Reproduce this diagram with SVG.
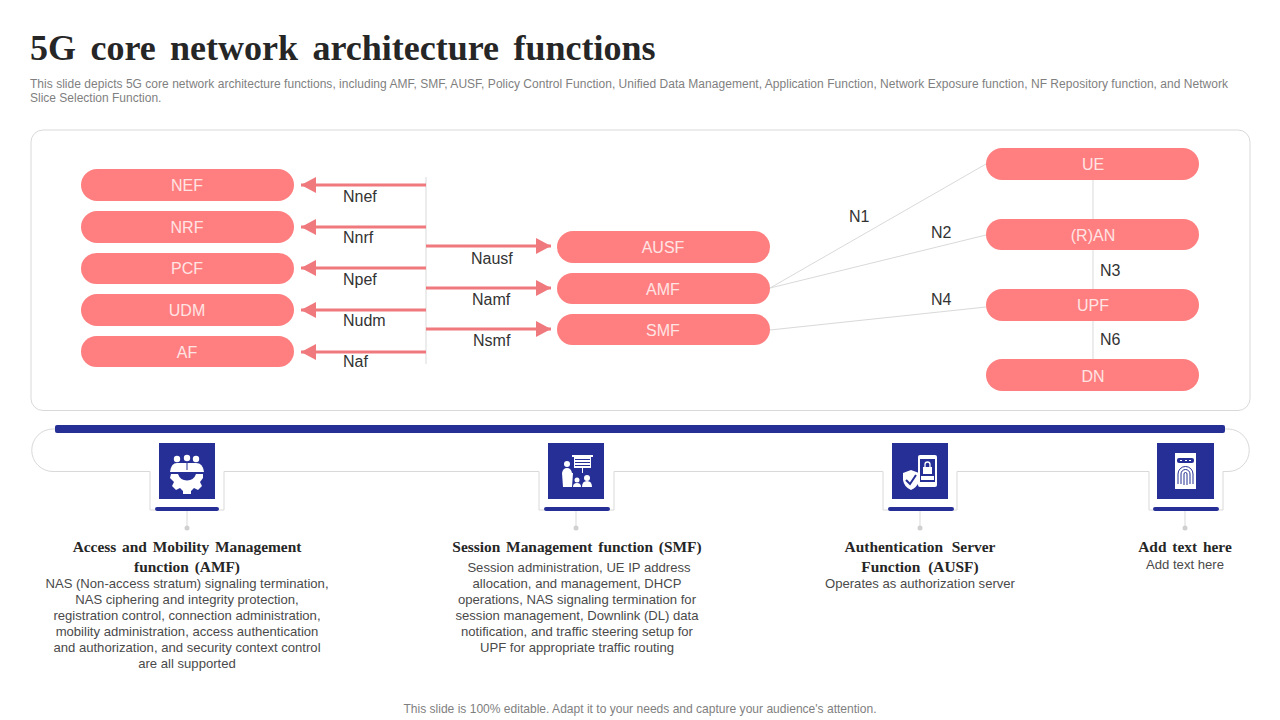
<svg xmlns="http://www.w3.org/2000/svg" width="1280" height="720" viewBox="0 0 1280 720">
<style>
text{font-family:"Liberation Sans",Arial,sans-serif}
.pill{fill:#ff7f80}
.pl{fill:#ffe4e4;font-size:16px;text-anchor:middle}
.lb{fill:#333;font-size:16px}
.thin{fill:none;stroke:#d9d9d9;stroke-width:1}
.arr{stroke:#f0797d;stroke-width:3;fill:none;marker-end:url(#ah)}
.navy{fill:#252f95}
.h{font-family:"Liberation Serif",serif;font-weight:bold;font-size:15.400px;fill:#262626;text-anchor:middle;word-spacing:2px}
.b{font-size:13.100px;fill:#4a4a4a;text-anchor:middle}
.w{fill:#fff}
</style>
<defs><marker id="ah" markerUnits="userSpaceOnUse" markerWidth="16" markerHeight="16" refX="15" refY="8" orient="auto"><path d="M0 0L15 8L0 16Z" fill="#f0797d"/></marker></defs>
<rect width="1280" height="720" fill="#fff"/>
<text x="30" y="60" style="font-family:'Liberation Serif',serif;font-weight:bold;font-size:36px;word-spacing:5.400px" fill="#262626">5G core network architecture functions</text>
<g font-size="12" fill="#7f7f7f">
<text x="30" y="88" textLength="1198" lengthAdjust="spacing">This slide depicts 5G core network architecture functions, including AMF, SMF, AUSF, Policy Control Function, Unified Data Management, Application Function, Network Exposure function, NF Repository function, and Network</text>
<text x="30" y="102">Slice Selection Function.</text>
</g>
<rect x="31" y="130" width="1219" height="280.500" rx="12" fill="#fff" stroke="#d9d9d9"/>
<g id="connectors">
<path class="thin" d="M426 177V364M770 288L986 164M770 288L986 235M770 330L986 307M1093 180V219M1093 250V289M1093 321V359"/>
<path class="arr" d="M426 185H301"/>
<path class="arr" d="M426 227H301"/>
<path class="arr" d="M426 268H301"/>
<path class="arr" d="M426 310H301"/>
<path class="arr" d="M426 352H301"/>
<path class="arr" d="M426 246H551"/>
<path class="arr" d="M426 288H551"/>
<path class="arr" d="M426 329H551"/>
</g>
<g class="lb">
<text x="343" y="202">Nnef</text><text x="343" y="243">Nnrf</text><text x="343" y="285">Npef</text><text x="343" y="326">Nudm</text><text x="343" y="367">Naf</text>
<text x="471" y="264">Nausf</text><text x="472" y="305">Namf</text><text x="473" y="346">Nsmf</text>
<text x="849" y="222">N1</text><text x="931" y="238">N2</text><text x="931" y="305">N4</text><text x="1100" y="276">N3</text><text x="1100" y="345">N6</text>
</g>
<g id="nef"><rect class="pill" x="81" y="169" width="213" height="32" rx="16"/><text class="pl" x="187" y="191">NEF</text></g>
<g id="nrf"><rect class="pill" x="81" y="211" width="213" height="32" rx="16"/><text class="pl" x="187" y="233">NRF</text></g>
<g id="pcf"><rect class="pill" x="81" y="253" width="213" height="31" rx="15.500"/><text class="pl" x="187" y="274">PCF</text></g>
<g id="udm"><rect class="pill" x="81" y="294" width="213" height="32" rx="16"/><text class="pl" x="187" y="316">UDM</text></g>
<g id="af"><rect class="pill" x="81" y="336" width="213" height="31" rx="15.500"/><text class="pl" x="187" y="358">AF</text></g>
<g id="ausf"><rect class="pill" x="557" y="231" width="213" height="32" rx="16"/><text class="pl" x="663" y="253">AUSF</text></g>
<g id="amf"><rect class="pill" x="557" y="273" width="213" height="31" rx="15.500"/><text class="pl" x="663" y="295">AMF</text></g>
<g id="smf"><rect class="pill" x="557" y="314" width="213" height="31" rx="15.500"/><text class="pl" x="663" y="336">SMF</text></g>
<g id="ue"><rect class="pill" x="986" y="148" width="213" height="32" rx="16"/><text class="pl" x="1093" y="170">UE</text></g>
<g id="ran"><rect class="pill" x="986" y="219" width="213" height="31" rx="15.500"/><text class="pl" x="1093" y="241">(R)AN</text></g>
<g id="upf"><rect class="pill" x="986" y="289" width="213" height="32" rx="16"/><text class="pl" x="1093" y="311">UPF</text></g>
<g id="dn"><rect class="pill" x="986" y="359" width="213" height="32" rx="16"/><text class="pl" x="1093" y="382">DN</text></g>

<path class="thin" d="M55 429H53A21.250 21.250 0 0 0 53 471.500H150V510H155M219 510H224V471.500H539V510H544M610 510H614V471.500H883V510H888M954 510H957V471.500H1149V510H1153M1219 510H1223V471.500H1228A21.250 21.250 0 0 0 1228 429H1225"/>
<rect class="navy" x="55" y="425" width="1170" height="8" rx="2"/>

<g id="item-amf">
<rect class="navy" x="159" y="443" width="56" height="56"/>
<rect class="navy" x="155" y="507" width="64" height="4" rx="2"/>
<path class="thin" d="M187 511V526"/><circle cx="187" cy="528" r="2.500" fill="#d0d0d0"/>
<g class="w"><circle cx="177" cy="459" r="3.200"/><circle cx="187" cy="458" r="3.200"/><circle cx="196" cy="459" r="3.200"/>
<path d="M170 472Q171 463 177 463H196Q203 463 204 472Z"/>
<path fill-rule="evenodd" d="M171 474H203V478L200 482L202 486L198 490L194 488L191 491V494H183V491L180 488L176 490L172 486L174 482L170 478ZM178 474A9.500 9.500 0 0 0 196 474Z"/></g>
<path d="M187 463V470" stroke="#252f95" stroke-width="1"/>
<text class="h" x="187" y="552">Access and Mobility Management</text>
<text class="h" x="187" y="572">function (AMF)</text>
<g class="b"><text x="187" y="588">NAS (Non-access stratum) signaling termination,</text><text x="187" y="604">NAS ciphering and integrity protection,</text><text x="187" y="620">registration control, connection administration,</text><text x="187" y="636">mobility administration, access authentication</text><text x="187" y="652">and authorization, and security context control</text><text x="187" y="668">are all supported</text></g>
</g>
<g id="item-smf">
<rect class="navy" x="548" y="443" width="56" height="56"/>
<rect class="navy" x="544" y="507" width="66" height="4" rx="2"/>
<path class="thin" d="M576 511V526"/><circle cx="576" cy="528" r="2.500" fill="#d0d0d0"/>
<g class="w"><rect x="572" y="455" width="21" height="2"/><rect x="574" y="457" width="17" height="11"/><rect x="582" y="468" width="1" height="5"/>
<circle cx="567" cy="464" r="3"/><path d="M562 473Q563 468 567 468Q571 468 572 473H573L572 487H563L562 473Z"/>
<circle cx="577" cy="480" r="2.500"/><path d="M573 487Q573 483 577 483Q581 483 581 487Z"/><circle cx="587" cy="478" r="3"/><path d="M582 487Q582 481 587 481Q592 481 592 487Z"/></g>
<path d="M575 459.500H590M575 462.500H590M575 465.500H590" stroke="#252f95"/>
<text class="h" x="577" y="552">Session Management function (SMF)</text>
<g class="b"><text x="579" y="572">Session administration, UE IP address</text><text x="577" y="588">allocation, and management, DHCP</text><text x="577" y="604">operations, NAS signaling termination for</text><text x="577" y="620">session management, Downlink (DL) data</text><text x="577" y="636">notification, and traffic steering setup for</text><text x="577" y="652">UPF for appropriate traffic routing</text></g>
</g>
<g id="item-ausf">
<rect class="navy" x="892" y="443" width="56" height="56"/>
<rect class="navy" x="888" y="507" width="66" height="4" rx="2"/>
<path class="thin" d="M920 511V526"/><circle cx="920" cy="528" r="2.500" fill="#d0d0d0"/>
<rect class="w" x="918" y="455" width="19" height="32" rx="2"/>
<rect class="navy" x="920" y="459" width="15" height="23"/>
<rect class="w" x="923" y="467" width="9" height="7"/><path d="M925 467V464.500A2.500 2.500 0 0 1 930 464.500V467" fill="none" stroke="#fff" stroke-width="1.300"/>
<rect class="w" x="921" y="476" width="13" height="4"/>
<path class="w" d="M911 470L903 473V480Q904 487 911 490Q917 487 919 482V473Z"/>
<path d="M906 480L910 484L916 475" fill="none" stroke="#252f95" stroke-width="2"/>
<text class="h" x="920" y="552" style="word-spacing:5px">Authentication Server</text>
<text class="h" x="920" y="572" style="word-spacing:4px">Function (AUSF)</text>
<text class="b" x="920" y="588">Operates as authorization server</text>
</g>
<g id="item-add">
<rect class="navy" x="1157" y="443" width="57" height="56"/>
<rect class="navy" x="1153" y="507" width="66" height="4" rx="2"/>
<path class="thin" d="M1185 511V526"/><circle cx="1185" cy="528" r="2.500" fill="#d0d0d0"/>
<rect class="w" x="1175" y="453" width="21" height="36"/>
<rect class="navy" x="1177" y="458" width="17" height="5" rx="2"/>
<path d="M1180 460.500H1182M1185 460.500H1187M1189 460.500H1191" stroke="#fff"/>
<g fill="none" stroke="#252f95"><path d="M1178 484V474A7.500 7.500 0 0 1 1193 474V484"/><path d="M1181 484V474A4.500 4.500 0 0 1 1190 474V484"/><path d="M1184 485V474A1.500 1.500 0 0 1 1187 474V485"/></g>
<text class="h" x="1185" y="552">Add text here</text>
<text class="b" x="1185" y="569">Add text here</text>
</g>
<text x="640" y="713" text-anchor="middle" font-size="12.050" fill="#7f7f7f">This slide is 100% editable. Adapt it to your needs and capture your audience's attention.</text>
</svg>
